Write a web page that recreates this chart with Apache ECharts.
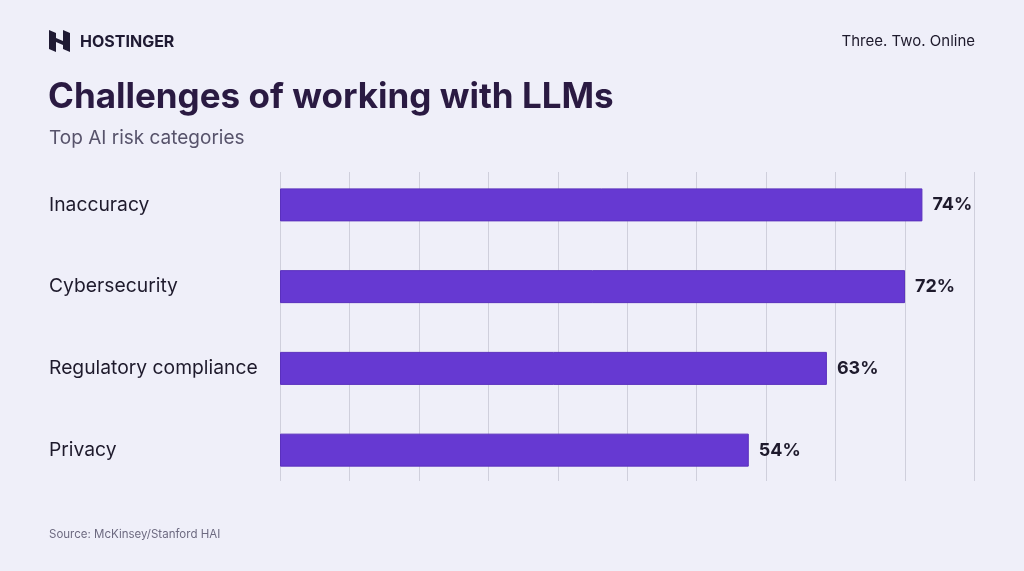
<!DOCTYPE html>
<html lang="en">
<head>
    <meta charset="UTF-8">
    <title>Challenges of working with LLMs</title>
    <script src="https://cdn.jsdelivr.net/npm/echarts@6/dist/echarts.min.js"></script>
    <style type="text/css">
        body {
            margin: 0;
            padding: 0;
            background-color: #efeff9;
        }

        #chart {
            width: 1024px;
            height: 571px;
        }
    </style>
</head>
<body>
<div id="chart"></div>

<script>
    // data
    var categories = ["Inaccuracy", "Cybersecurity", "Regulatory compliance", "Privacy"];
    var shares = [74, 72, 63, 54];
    var axisMax = 80;
    var axisStep = 8;

    var font = "Inter, 'Noto Sans', sans-serif";
    var ink = "#1e1a2c";

    var chart = echarts.init(document.getElementById("chart"));

    chart.setOption({
        backgroundColor: "#efeff9",
        textStyle: { fontFamily: font },
        graphic: [
            // logo mark
            { type: "polygon", shape: { points: [[49, 30], [56, 33], [56, 52], [49, 49]] }, style: { fill: "#1f1a33" } },
            { type: "polygon", shape: { points: [[63, 30], [70, 33], [70, 52], [63, 49]] }, style: { fill: "#1f1a33" } },
            { type: "polygon", shape: { points: [[56, 38], [63, 41], [63, 45], [56, 42]] }, style: { fill: "#1f1a33" } },
            {
                type: "text", left: 80, top: 34,
                style: { text: "HOSTINGER", font: "bold 16px " + font, fill: "#1f1a33" }
            },
            {
                type: "text", right: 49, top: 34,
                style: { text: "Three. Two. Online", font: "15px " + font, fill: ink }
            },
            {
                type: "text", left: 48, top: 80,
                style: { text: "Challenges of working with LLMs", font: "bold 35px " + font, fill: "#2a1a42" }
            },
            {
                type: "text", left: 49, top: 129,
                style: { text: "Top AI risk categories", font: "19px " + font, fill: "#57536b" }
            },
            {
                type: "text", left: 49, top: 529,
                style: { text: "Source: McKinsey/Stanford HAI", font: "11.5px " + font, fill: "#6d6a80" }
            }
        ],
        grid: [
            { left: 280, width: 694.5, top: 172, height: 309 },
            { left: 280, width: 694.5, top: 164, height: 327 }
        ],
        xAxis: [
            {
                gridIndex: 0, type: "value", min: 0, max: axisMax, interval: axisStep,
                axisLine: { show: false }, axisTick: { show: false }, axisLabel: { show: false },
                splitLine: { lineStyle: { color: "#cfcfdc", width: 1 } }
            },
            {
                gridIndex: 1, type: "value", min: 0, max: axisMax, interval: axisStep,
                axisLine: { show: false }, axisTick: { show: false }, axisLabel: { show: false },
                splitLine: { show: false }
            }
        ],
        yAxis: [
            {
                gridIndex: 0, type: "category", data: categories, inverse: true,
                axisLine: { show: false }, axisTick: { show: false }, axisLabel: { show: false }
            },
            {
                gridIndex: 1, type: "category", data: categories, inverse: true,
                axisLine: { show: false }, axisTick: { show: false },
                axisLabel: {
                    align: "left", margin: 231,
                    fontSize: 19.3, color: ink, fontFamily: font
                }
            }
        ],
        series: [
            {
                type: "bar",
                xAxisIndex: 1,
                yAxisIndex: 1,
                data: shares,
                barWidth: 33,
                itemStyle: { color: "#6639d2", borderColor: "#5a30bd", borderWidth: 1 },
                label: {
                    show: true, position: "right", distance: 10,
                    formatter: "{c}%",
                    fontSize: 18, fontWeight: "bold", color: ink, fontFamily: font
                }
            }
        ]
    });
</script>
</body>
</html>
